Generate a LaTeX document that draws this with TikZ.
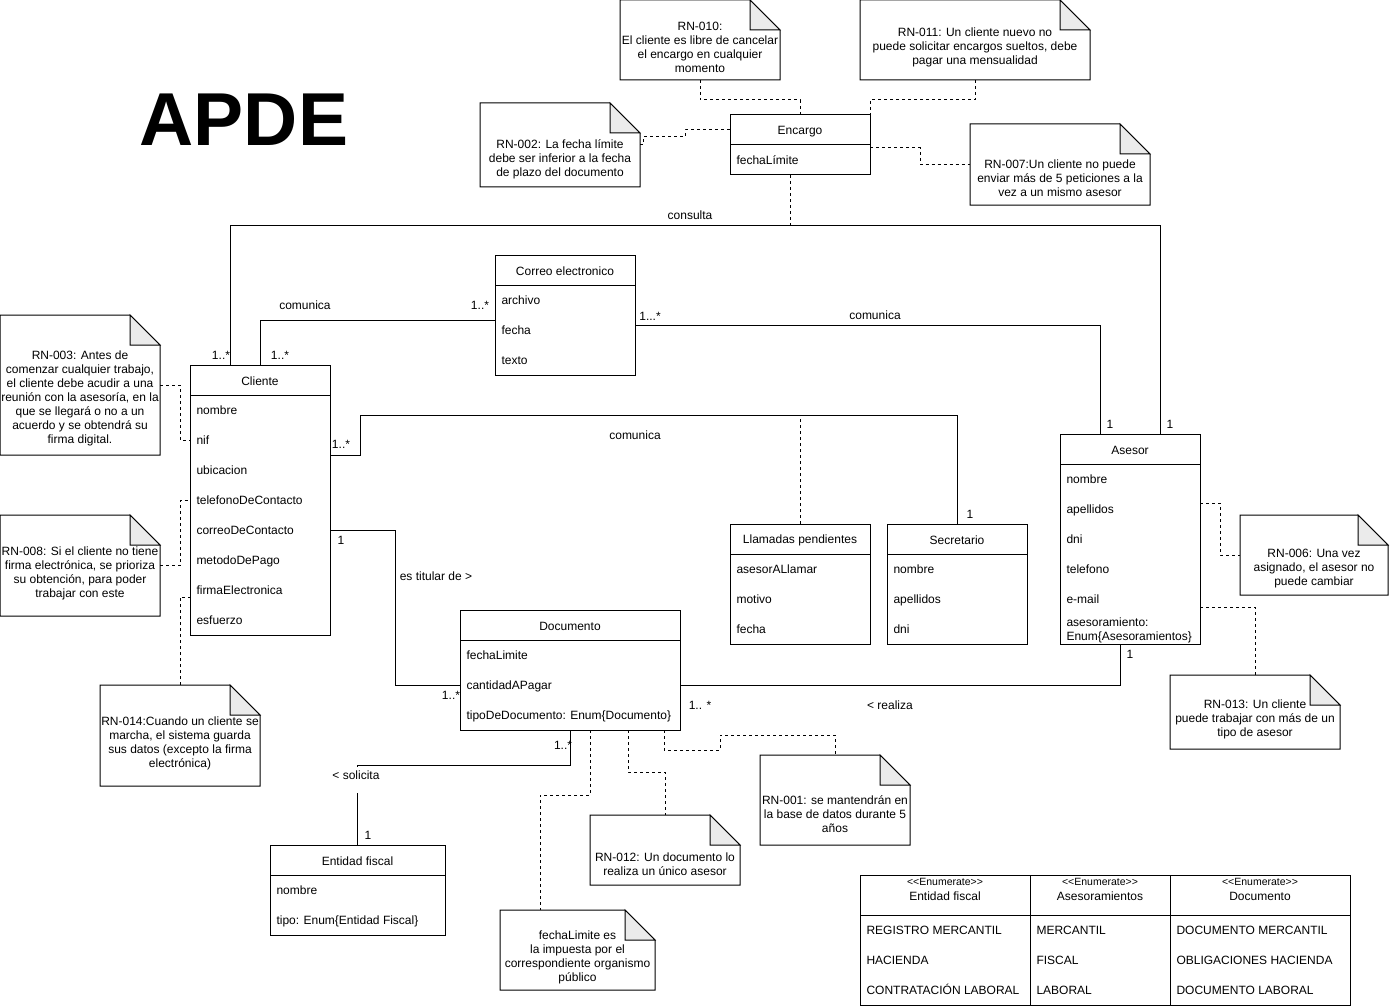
\documentclass[tikz,border=0pt]{standalone}
\usepackage{fontspec}
\setmainfont{Liberation Sans}
\definecolor{foldgray}{HTML}{EBEBEB}

\tikzset{
  clase/.style={draw, inner sep=0pt, outer sep=0pt, anchor=north west},
  titulo/.style={inner sep=0pt, font=\fontsize{12}{14}\selectfont},
  attr/.style={anchor=west, inner sep=0pt, text height=10pt, text depth=1pt, font=\fontsize{12}{14}\selectfont},
  mult/.style={inner sep=1pt, font=\fontsize{12}{14}\selectfont},
  notebox/.style={inner sep=0pt, outer sep=0pt},
  notetxt/.style={inner sep=0pt, align=center, font=\fontsize{12}{14}\selectfont},
  enlace/.style={dashed},
}

% nota con esquina doblada: nombre, x1, y1, x2, y2, y del texto, texto
\newcommand{\rnnote}[7]{%
  \node[notebox, minimum width={(#4-#2)*1pt}, minimum height={(#5-#3)*1pt}] (#1) at ({(#2+#4)/2},{(#3+#5)/2}) {};
  \draw (#1.north west) -- ([xshift=-30pt]#1.north east) -- ([yshift=-30pt]#1.north east) -- (#1.south east) -- (#1.south west) -- cycle;
  \filldraw[fill=foldgray] ([xshift=-30pt]#1.north east) -- ([xshift=-30pt,yshift=-30pt]#1.north east) -- ([yshift=-30pt]#1.north east) -- cycle;
  \node[notetxt] (#1-t) at ({(#2+#4)/2},#6) {#7};
}

\begin{document}
\begin{tikzpicture}[x=1pt, y=-1pt, line width=1pt]
        \useasboundingbox (0,0) rectangle (1390,1006);

        \node[inner sep=0pt, font=\fontsize{75}{80}\selectfont\bfseries] (apde) at (244,120) {APDE};

        % clases
        \node[clase, minimum width=140pt, minimum height=60pt] (encargo) at (730,115) {};
        \draw (encargo.north west) ++(0,30) -- ++(140,0);
        \node[titulo] (encargo-t) at ([yshift=-16.5pt]encargo.north) {Encargo};
        \node[attr] (encargo-1) at ([xshift=6pt,yshift=-45pt]encargo.north west) {fechaLímite};

        \node[clase, minimum width=140pt, minimum height=120pt] (correo) at (495,255) {};
        \draw (correo.north west) ++(0,30) -- ++(140,0);
        \node[titulo] (correo-t) at ([yshift=-16.5pt]correo.north) {Correo electronico};
        \node[attr] (correo-1) at ([xshift=6pt,yshift=-45pt]correo.north west) {archivo};
        \node[attr] (correo-2) at ([xshift=6pt,yshift=-75pt]correo.north west) {fecha};
        \node[attr] (correo-3) at ([xshift=6pt,yshift=-105pt]correo.north west) {texto};

        \node[clase, minimum width=140pt, minimum height=270pt] (cliente) at (190,365) {};
        \draw (cliente.north west) ++(0,30) -- ++(140,0);
        \node[titulo] (cliente-t) at ([yshift=-16.5pt]cliente.north) {Cliente};
        \node[attr] (cliente-1) at ([xshift=6pt,yshift=-45pt]cliente.north west) {nombre};
        \node[attr] (cliente-2) at ([xshift=6pt,yshift=-75pt]cliente.north west) {nif};
        \node[attr] (cliente-3) at ([xshift=6pt,yshift=-105pt]cliente.north west) {ubicacion};
        \node[attr] (cliente-4) at ([xshift=6pt,yshift=-135pt]cliente.north west) {telefonoDeContacto};
        \node[attr] (cliente-5) at ([xshift=6pt,yshift=-165pt]cliente.north west) {correoDeContacto};
        \node[attr] (cliente-6) at ([xshift=6pt,yshift=-195pt]cliente.north west) {metodoDePago};
        \node[attr] (cliente-7) at ([xshift=6pt,yshift=-225pt]cliente.north west) {firmaElectronica};
        \node[attr] (cliente-8) at ([xshift=6pt,yshift=-255pt]cliente.north west) {esfuerzo};

        \node[clase, minimum width=140pt, minimum height=210pt] (asesor) at (1060,434) {};
        \draw (asesor.north west) ++(0,30) -- ++(140,0);
        \node[titulo] (asesor-t) at ([yshift=-16.5pt]asesor.north) {Asesor};
        \node[attr] (asesor-1) at ([xshift=6pt,yshift=-45pt]asesor.north west) {nombre};
        \node[attr] (asesor-2) at ([xshift=6pt,yshift=-75pt]asesor.north west) {apellidos};
        \node[attr] (asesor-3) at ([xshift=6pt,yshift=-105pt]asesor.north west) {dni};
        \node[attr] (asesor-4) at ([xshift=6pt,yshift=-135pt]asesor.north west) {telefono};
        \node[attr] (asesor-5) at ([xshift=6pt,yshift=-165pt]asesor.north west) {e-mail};
        \node[attr, align=left, text height=, text depth=] (asesor-6) at ([xshift=6pt,yshift=-196pt]asesor.north west) {asesoramiento:\\Enum\{Asesoramientos\}};

        \node[clase, minimum width=140pt, minimum height=120pt] (llamadas) at (730,524) {};
        \draw (llamadas.north west) ++(0,30) -- ++(140,0);
        \node[titulo] (llamadas-t) at ([yshift=-16.5pt]llamadas.north) {Llamadas pendientes};
        \node[attr] (llamadas-1) at ([xshift=6pt,yshift=-45pt]llamadas.north west) {asesorALlamar};
        \node[attr] (llamadas-2) at ([xshift=6pt,yshift=-75pt]llamadas.north west) {motivo};
        \node[attr] (llamadas-3) at ([xshift=6pt,yshift=-105pt]llamadas.north west) {fecha};

        \node[clase, minimum width=140pt, minimum height=120pt] (secretario) at (887,524) {};
        \draw (secretario.north west) ++(0,30) -- ++(140,0);
        \node[titulo] (secretario-t) at ([yshift=-16.5pt]secretario.north) {Secretario};
        \node[attr] (secretario-1) at ([xshift=6pt,yshift=-45pt]secretario.north west) {nombre};
        \node[attr] (secretario-2) at ([xshift=6pt,yshift=-75pt]secretario.north west) {apellidos};
        \node[attr] (secretario-3) at ([xshift=6pt,yshift=-105pt]secretario.north west) {dni};

        \node[clase, minimum width=220pt, minimum height=120pt] (documento) at (460,610) {};
        \draw (documento.north west) ++(0,30) -- ++(220,0);
        \node[titulo] (documento-t) at ([yshift=-16.5pt]documento.north) {Documento};
        \node[attr] (documento-1) at ([xshift=6pt,yshift=-45pt]documento.north west) {fechaLimite};
        \node[attr] (documento-2) at ([xshift=6pt,yshift=-75pt]documento.north west) {cantidadAPagar};
        \node[attr] (documento-3) at ([xshift=6pt,yshift=-105pt]documento.north west) {tipoDeDocumento: Enum\{Documento\}};

        \node[clase, minimum width=175pt, minimum height=90pt] (entidad) at (270,845) {};
        \draw (entidad.north west) ++(0,30) -- ++(175,0);
        \node[titulo] (entidad-t) at ([yshift=-16.5pt]entidad.north) {Entidad fiscal};
        \node[attr] (entidad-1) at ([xshift=6pt,yshift=-45pt]entidad.north west) {nombre};
        \node[attr] (entidad-2) at ([xshift=6pt,yshift=-75pt]entidad.north west) {tipo: Enum\{Entidad Fiscal\}};

        % enumerados
        \node[clase, minimum width=170pt, minimum height=130pt] (enumEF) at (860,875) {};
        \node[clase, minimum width=140pt, minimum height=130pt] (enumAs) at (1030,875) {};
        \node[clase, minimum width=180pt, minimum height=130pt] (enumDoc) at (1170,875) {};
        \draw (enumEF.north west) ++(0,40) -- ++(490,0);
        \node[titulo, font=\fontsize{10.5}{12}\selectfont] (enumEF-s) at ([yshift=-7pt]enumEF.north) {{<}{<}Enumerate{>}{>}};
        \node[titulo] (enumEF-t) at ([yshift=-21pt]enumEF.north) {Entidad fiscal};
        \node[attr] (enumEF-1) at ([xshift=6pt,yshift=-55pt]enumEF.north west) {REGISTRO MERCANTIL};
        \node[attr] (enumEF-2) at ([xshift=6pt,yshift=-85pt]enumEF.north west) {HACIENDA};
        \node[attr] (enumEF-3) at ([xshift=6pt,yshift=-115pt]enumEF.north west) {CONTRATACIÓN LABORAL};
        \node[titulo, font=\fontsize{10.5}{12}\selectfont] (enumAs-s) at ([yshift=-7pt]enumAs.north) {{<}{<}Enumerate{>}{>}};
        \node[titulo] (enumAs-t) at ([yshift=-21pt]enumAs.north) {Asesoramientos};
        \node[attr] (enumAs-1) at ([xshift=6pt,yshift=-55pt]enumAs.north west) {MERCANTIL};
        \node[attr] (enumAs-2) at ([xshift=6pt,yshift=-85pt]enumAs.north west) {FISCAL};
        \node[attr] (enumAs-3) at ([xshift=6pt,yshift=-115pt]enumAs.north west) {LABORAL};
        \node[titulo, font=\fontsize{10.5}{12}\selectfont] (enumDoc-s) at ([yshift=-7pt]enumDoc.north) {{<}{<}Enumerate{>}{>}};
        \node[titulo] (enumDoc-t) at ([yshift=-21pt]enumDoc.north) {Documento};
        \node[attr] (enumDoc-1) at ([xshift=6pt,yshift=-55pt]enumDoc.north west) {DOCUMENTO MERCANTIL};
        \node[attr] (enumDoc-2) at ([xshift=6pt,yshift=-85pt]enumDoc.north west) {OBLIGACIONES HACIENDA};
        \node[attr] (enumDoc-3) at ([xshift=6pt,yshift=-115pt]enumDoc.north west) {DOCUMENTO LABORAL};

        % notas
        \rnnote{rn010}{620}{0}{780}{80}{47}{RN-010:\\El cliente es libre de cancelar\\el encargo en cualquier\\momento}
        \rnnote{rn011}{860}{0}{1090}{80}{47}{RN-011: Un cliente nuevo no\\puede solicitar encargos sueltos, debe\\pagar una mensualidad}
        \rnnote{rn002}{480}{103}{640}{187}{159}{RN-002: La fecha límite\\debe ser inferior a la fecha\\de plazo del documento}
        \rnnote{rn007}{970}{124}{1150}{205}{178}{RN-007:Un cliente no puede\\enviar más de 5 peticiones a la\\vez a un mismo asesor}
        \rnnote{rn003}{0}{315}{160}{455}{398}{RN-003: Antes de\\comenzar cualquier trabajo,\\el cliente debe acudir a una\\reunión con la asesoría, en la\\que se llegará o no a un\\acuerdo y se obtendrá su\\firma digital.}
        \rnnote{rn008}{0}{515}{160}{616}{573}{RN-008: Si el cliente no tiene\\firma electrónica, se prioriza\\su obtención, para poder\\trabajar con este}
        \rnnote{rn014}{100}{685}{260}{786}{743}{RN-014:Cuando un cliente se\\marcha, el sistema guarda\\sus datos (excepto la firma\\electrónica)}
        \rnnote{rn006}{1240}{515}{1388}{595}{569}{RN-006: Una vez\\asignado, el asesor no\\puede cambiar}
        \rnnote{rn013}{1170}{675}{1340}{749}{719}{RN-013: Un cliente\\puede trabajar con más de un\\tipo de asesor}
        \rnnote{rn001}{760}{755}{910}{845}{814}{RN-001: se mantendrán en\\la base de datos durante 5\\años}
        \rnnote{rn012}{590}{815}{740}{885}{864}{RN-012: Un documento lo\\realiza un único asesor}
        \rnnote{rnfecha}{500}{910}{655}{990}{957}{fechaLimite es\\la impuesta por el\\correspondiente organismo\\público}

        % asociaciones
        \draw ([xshift=-30pt]cliente.north) -- ++(0,-140) -| ([xshift=30pt]asesor.north);
        \draw (cliente.north) |- ([yshift=-5pt]correo.west);
        \draw ([yshift=-10pt]correo.east) -| ([xshift=-30pt]asesor.north);
        \draw ([yshift=45pt]cliente.east) -- ++(30,0) -- ++(0,-40) -| (secretario.north);
        \draw ([yshift=-30pt]cliente.east) -- ++(65,0) |- ([yshift=-15pt]documento.west);
        \draw ([yshift=-15pt]documento.east) -| ([xshift=-10pt]asesor.south);
        \draw (documento.south) -- ++(0,35) -| (entidad.north);

        \draw[enlace] ([xshift=-10pt]encargo.south) -- ++(0,50);
        \draw[enlace] (llamadas.north) -- ++(0,-109);

        % enlaces de notas
        \draw[enlace] (rn010.south) -- ++(0,20) -| (encargo.north);
        \draw[enlace] (rn011.south) -- ++(0,20) -| (encargo.north east);
        \draw[enlace] (rn002.east) -- ++(3,0) -- ++(0,-8) -- ++(42,0) |- ([yshift=15pt]encargo.west);
        \draw[enlace] ([yshift=-3pt]encargo.east) -- ++(50,0) |- (rn007.west);
        \draw[enlace] (rn003.east) -- ++(20,0) |- ([yshift=60pt]cliente.west);
        \draw[enlace] (rn008.east) -- ++(20,0) |- (cliente.west);
        \draw[enlace] (rn014.north) |- ([yshift=-97pt]cliente.west);
        \draw[enlace] ([yshift=36pt]asesor.east) -- ++(20,0) |- (rn006.west);
        \draw[enlace] ([yshift=-68pt]asesor.east) -| (rn013.north);
        \draw[enlace] ([xshift=94pt]documento.south) -- ++(0,20) -- ++(56,0) -- ++(0,-15) -| (rn001.north);
        \draw[enlace] ([xshift=58pt]documento.south) -- ++(0,42) -| (rn012.north);
        \draw[enlace] ([xshift=20pt]documento.south) -- ++(0,65) -| ([xshift=-37.5pt]rnfecha.north);

        % etiquetas
        \node[mult] (lb-consulta) at (690,215) {consulta};
        \node[mult] (m-cli1) at (221,355) {1..*};
        \node[mult] (m-ase1) at (1170,424) {1};
        \node[mult] (lb-com1) at (305,305) {comunica};
        \node[mult] (m-cli2) at (280,355) {1..*};
        \node[mult] (m-cor1) at (480,305) {1..*};
        \node[mult] (lb-com2) at (875,315) {comunica};
        \node[mult] (m-cor2) at (650,316) {1...*};
        \node[mult] (m-ase2) at (1110,424) {1};
        \node[mult] (lb-com3) at (635,435) {comunica};
        \node[mult] (m-cli3) at (341,444) {1..*};
        \node[mult] (m-sec) at (970,514) {1};
        \node[mult] (m-cli4) at (341,540) {1};
        \node[mult] (lb-titular) at (436,576) {es titular de >};
        \node[mult] (m-doc1) at (451,695) {1..*};
        \node[mult] (m-doc2) at (700,705) {1.. *};
        \node[mult] (lb-realiza) at (890,705) {< realiza};
        \node[mult] (m-ase3) at (1130,654) {1};
        \node[mult] (m-doc3) at (563,745) {1..*};
        \node[mult, fill=white, inner sep=3pt, text height=9pt, text depth=11pt] (lb-solicita) at (356,780) {< solicita};
        \node[mult] (m-ent) at (368,835) {1};
\end{tikzpicture}
\end{document}
